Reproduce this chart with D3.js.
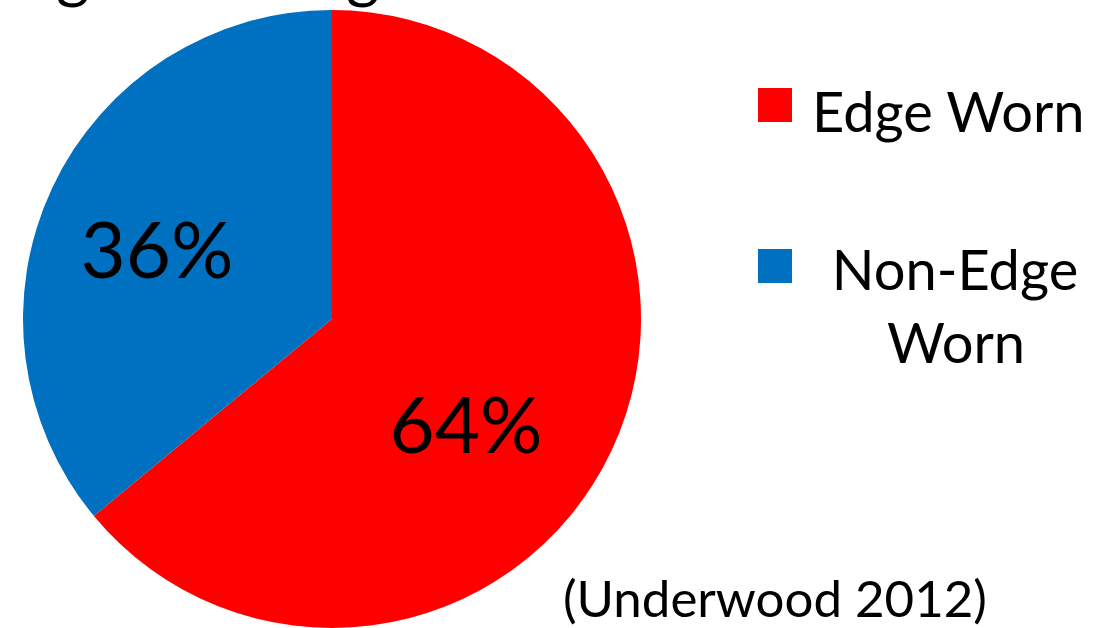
<!DOCTYPE html>
<html>
<head>
<meta charset="utf-8">
<script src="https://cdn.jsdelivr.net/npm/d3@7"></script>
<style>
  body { margin: 0; background: #fff; }
  text { font-family: Lato, "Open Sans", sans-serif; fill: #000; }
</style>
</head>
<body>
<div id="chart"></div>
<script>
// Data
var categories = ["Edge Worn", "Non-Edge Worn"];
var values = [64, 36];
var colors = ["#ff0000", "#0070c0"];
var pctLabels = ["64%", "36%"];

var svgWidth = 1112;
var svgHeight = 628;

var svg = d3.select("#chart")
  .append("svg")
  .attr("width", svgWidth)
  .attr("height", svgHeight);

// tails of the cropped title above the frame
svg.append("text").attr("x", 73).attr("y", -4).attr("text-anchor", "middle")
  .style("font-size", "64px").text("g");
svg.append("text").attr("x", 363).attr("y", -4).attr("text-anchor", "middle")
  .style("font-size", "64px").text("g");

var radius = 309;
var pieGroup = svg.append("g")
  .attr("transform", "translate(332, 319)");

var pie = d3.pie().sort(null).value(d => d);
var arc = d3.arc().innerRadius(0).outerRadius(radius);

var slices = pie(values);

pieGroup.selectAll("path")
  .data(slices)
  .enter()
  .append("path")
  .attr("d", arc)
  .attr("fill", (d, i) => colors[i]);

// percentage labels
pieGroup.selectAll("text.pct")
  .data(slices)
  .enter()
  .append("text")
  .attr("class", "pct")
  .attr("text-anchor", "middle")
  .style("font-size", "78px")
  .attr("x", (d, i) => i === 0 ? 134 : -175)
  .attr("y", (d, i) => i === 0 ? 134 : -41)
  .text((d, i) => pctLabels[i]);

// legend
var legend = svg.append("g");
legend.append("rect").attr("x", 758).attr("y", 88).attr("width", 34).attr("height", 34)
  .attr("fill", colors[0]);
legend.append("text").attr("x", 812).attr("y", 132)
  .style("font-size", "56px").text("Edge Worn");

legend.append("rect").attr("x", 758).attr("y", 249).attr("width", 34).attr("height", 34)
  .attr("fill", colors[1]);
legend.append("text").attr("x", 955).attr("y", 290).attr("text-anchor", "middle")
  .style("font-size", "56px").text("Non-Edge");
legend.append("text").attr("x", 956).attr("y", 363).attr("text-anchor", "middle")
  .style("font-size", "56px").text("Worn");

// source note
svg.append("text").attr("x", 563).attr("y", 617)
  .style("font-size", "51px").text("(Underwood 2012)");
</script>
</body>
</html>
